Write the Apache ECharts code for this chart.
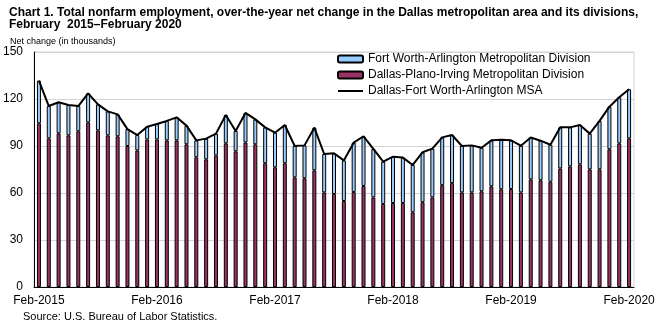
<!DOCTYPE html>
<html>
<head>
<meta charset="utf-8">
<script src="https://cdn.jsdelivr.net/npm/echarts@6/dist/echarts.min.js"></script>
<style>html,body{margin:0;padding:0;background:#fff;}#c{width:664px;height:327px;}</style>
</head>
<body>
<div id="c"></div>
<script>
const months = ['Feb-2015','Mar-2015','Apr-2015','May-2015','Jun-2015','Jul-2015','Aug-2015','Sep-2015','Oct-2015','Nov-2015','Dec-2015','Jan-2016',
'Feb-2016','Mar-2016','Apr-2016','May-2016','Jun-2016','Jul-2016','Aug-2016','Sep-2016','Oct-2016','Nov-2016','Dec-2016','Jan-2017',
'Feb-2017','Mar-2017','Apr-2017','May-2017','Jun-2017','Jul-2017','Aug-2017','Sep-2017','Oct-2017','Nov-2017','Dec-2017','Jan-2018',
'Feb-2018','Mar-2018','Apr-2018','May-2018','Jun-2018','Jul-2018','Aug-2018','Sep-2018','Oct-2018','Nov-2018','Dec-2018','Jan-2019',
'Feb-2019','Mar-2019','Apr-2019','May-2019','Jun-2019','Jul-2019','Aug-2019','Sep-2019','Oct-2019','Nov-2019','Dec-2019','Jan-2020',
'Feb-2020'];

const dallas = [104.5,94.9,98.1,96.8,99.4,105.1,100.0,96.8,96.2,90.0,87.2,94.2,
94.2,93.6,93.6,91.1,82.8,81.5,84.0,91.7,86.6,92.3,91.1,79.0,
76.4,79.0,70.0,69.4,74.5,60.4,59.4,54.9,60.6,64.5,57.2,53.0,
53.6,53.6,47.7,54.1,57.2,65.0,66.3,60.4,60.4,61.1,64.3,62.4,
62.6,60.4,68.7,68.1,67.2,75.7,77.0,78.3,75.1,75.1,87.9,91.7,
94.9];

const fortWorth = [27.2,20.6,19.8,19.4,16.1,18.5,16.6,15.3,14.0,10.8,9.8,8.1,
9.8,12.4,14.7,11.9,10.8,13.2,13.9,18.1,13.0,18.8,15.9,22.9,
22.1,24.4,20.0,21.0,27.2,24.5,25.9,25.9,31.5,31.7,30.9,27.0,
29.6,29.0,30.2,31.9,31.1,30.5,30.7,29.6,30.0,27.8,29.3,31.6,
31.0,29.8,26.7,25.3,23.6,26.2,24.9,25.1,22.8,30.9,27.2,29.4,
31.3];

const msa = [131.7,115.5,117.9,116.2,115.5,123.6,116.6,112.1,110.2,100.8,97.0,102.3,
104.0,106.0,108.3,103.0,93.6,94.7,97.9,109.8,99.6,111.1,107.0,101.9,
98.5,103.4,90.0,90.4,101.7,84.9,85.3,80.8,92.1,96.2,88.1,80.0,
83.2,82.6,77.9,86.0,88.3,95.5,97.0,90.0,90.4,88.9,93.6,94.0,
93.6,90.2,95.4,93.4,90.8,101.9,101.9,103.4,97.9,106.0,115.1,121.1,
126.2];

const yTicks = [0,30,60,90,120,150];

const titleText = 'Chart 1. Total nonfarm employment, over-the-year net change in the Dallas metropolitan area and its divisions,\nFebruary  2015\u2013February 2020';
const sans = "'Liberation Sans',Arial,sans-serif";

const chart = echarts.init(document.getElementById('c'), null, {renderer:'canvas'});
chart.setOption({
  animation:false,
  backgroundColor:'#fff',
  title:[
    {text:titleText,left:9,top:6,padding:0,
     textStyle:{fontFamily:sans,fontWeight:'bold',fontSize:12,lineHeight:12.5,color:'#000'}},
    {text:'Net change (in thousands)',left:10,top:37,padding:0,
     textStyle:{fontFamily:sans,fontWeight:'normal',fontSize:9,color:'#000'}},
    {text:'Source: U.S. Bureau of Labor Statistics.',left:23,top:311,padding:0,
     textStyle:{fontFamily:sans,fontWeight:'normal',fontSize:11,color:'#000'}}
  ],
  legend:{
    orient:'vertical',left:337,top:53,padding:0,itemWidth:25,itemHeight:7,itemGap:4,
    textStyle:{fontFamily:sans,fontSize:12,lineHeight:12,color:'#000'},
    data:['Fort Worth-Arlington Metropolitan Division','Dallas-Plano-Irving Metropolitan Division',
      {name:'Dallas-Fort Worth-Arlington MSA',icon:'path://M0,0 L25,0 L25,2 L0,2 Z'}]
  },
  grid:{left:34,right:30,top:52,bottom:40,show:true,borderColor:'#d4d4d4',borderWidth:1,containLabel:false},
  xAxis:{
    type:'category',data:months,boundaryGap:true,
    axisLine:{lineStyle:{color:'#000',width:1}},
    axisTick:{show:false},
    axisLabel:{interval:11,margin:8,fontFamily:sans,fontSize:12,color:'#000'}
  },
  yAxis:{
    type:'value',min:yTicks[0],max:yTicks[yTicks.length-1],interval:30,
    axisLine:{show:true,lineStyle:{color:'#000',width:1}},
    axisTick:{show:false},
    splitLine:{lineStyle:{color:'#d4d4d4',width:1}},
    axisLabel:{margin:11,fontFamily:sans,fontSize:12,color:'#000'}
  },
  series:[
    {name:'Dallas-Plano-Irving Metropolitan Division',type:'bar',stack:'t',data:dallas,barWidth:4,
     itemStyle:{color:'#993366',borderColor:'#000',borderWidth:1}},
    {name:'Fort Worth-Arlington Metropolitan Division',type:'bar',stack:'t',data:fortWorth,barWidth:4,
     itemStyle:{color:'#99ccff',borderColor:'#000',borderWidth:1}},
    {name:'Dallas-Fort Worth-Arlington MSA',type:'line',data:msa,symbol:'none',z:5,
     lineStyle:{color:'#000',width:2},itemStyle:{color:'#000'}}
  ]
});
</script>
</body>
</html>
